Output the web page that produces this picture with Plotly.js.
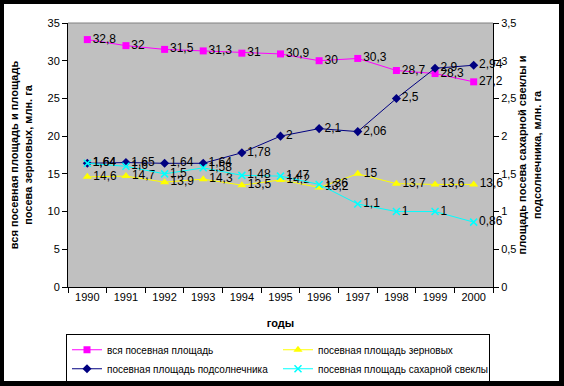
<!DOCTYPE html>
<html>
<head>
<meta charset="utf-8">
<script src="https://cdn.plot.ly/plotly-3.0.1.min.js"></script>
<style>
html,body{margin:0;padding:0;background:#000;}
#wrap{position:relative;width:564px;height:386px;background:#000;overflow:hidden;}
#chart{position:absolute;left:4px;top:4px;width:555px;height:377px;background:#fff;}
</style>
</head>
<body>
<div id="wrap"><div id="chart"></div></div>
<script>
const years = ['1990','1991','1992','1993','1994','1995','1996','1997','1998','1999','2000'];
const totalArea = [32.8, 32, 31.5, 31.3, 31, 30.9, 30, 30.3, 28.7, 28.3, 27.2];
const grainArea = [14.6, 14.7, 13.9, 14.3, 13.5, 14.2, 13.2, 15, 13.7, 13.6, 13.6];
const sunflowerArea = [1.64, 1.65, 1.64, 1.64, 1.78, 2, 2.1, 2.06, 2.5, 2.9, 2.94];
const sugarBeetArea = [1.64, 1.6, 1.5, 1.58, 1.48, 1.47, 1.36, 1.1, 1, 1, 0.86];
const seriesNames = ['вся посевная площадь', 'посевная площадь зерновых', 'посевная площадь подсолнечника', 'посевная площадь сахарной свеклы'];

const fmt = v => String(v).replace('.', ',');
const labelFont = {family: 'Liberation Sans, Arial, sans-serif', size: 12, color: '#000'};

function tr(y, name, color, symbol, size, yaxis) {
  const isX = symbol.indexOf('x') === 0;
  return {
    x: years, y: y, name: name, type: 'scatter', mode: 'lines+markers+text',
    yaxis: yaxis,
    line: {color: color, width: 1},
    marker: {color: color, symbol: symbol, size: size, line: {color: color, width: isX ? 1.5 : 0}},
    text: y.map(fmt), textposition: 'middle right', textfont: labelFont,
    cliponaxis: false
  };
}

const data = [
  tr(totalArea, seriesNames[0], '#ff00ff', 'square', 7, 'y'),
  tr(grainArea, seriesNames[1], '#ffff00', 'triangle-up', 8, 'y'),
  tr(sunflowerArea, seriesNames[2], '#000080', 'diamond', 7, 'y2'),
  tr(sugarBeetArea, seriesNames[3], '#00ffff', 'x-thin-open', 7, 'y2')
];

const axFont = {family: 'Liberation Sans, Arial, sans-serif', size: 11, color: '#000'};
const titleFont = {family: 'Liberation Sans, Arial, sans-serif', size: 11, color: '#000', weight: 'bold'};

const layout = {
  width: 555, height: 377,
  margin: {l: 64, r: 66, t: 19, b: 94},
  paper_bgcolor: '#ffffff',
  plot_bgcolor: '#c0c0c0',
  separators: ', ',
  showlegend: true,
  font: axFont,
  xaxis: {
    type: 'category', range: [-0.5, 10.5],
    tickson: 'boundaries', ticks: 'outside', ticklen: 5, tickcolor: '#000',
    showline: true, linecolor: '#000', linewidth: 1, showgrid: false, zeroline: false,
    tickfont: axFont, automargin: false,
    title: {text: 'годы', font: titleFont, standoff: 17}
  },
  yaxis: {
    range: [0, 35], dtick: 5, ticks: 'outside', ticklen: 5, tickcolor: '#000',
    showline: true, linecolor: '#000', linewidth: 1, showgrid: false, zeroline: false,
    tickfont: axFont, automargin: false,
    title: {text: 'вся посевная площадь и площадь<br>посева зерновых, млн. га', font: titleFont, standoff: 12}
  },
  yaxis2: {
    range: [0, 3.5], dtick: 0.5, overlaying: 'y', side: 'right',
    ticks: 'outside', ticklen: 5, tickcolor: '#000',
    showline: true, linecolor: '#000', linewidth: 1, showgrid: false, zeroline: false,
    tickfont: axFont, automargin: false,
    title: {text: 'площадь посева сахарной свеклы и<br>подсолнечника, млн. га', font: titleFont, standoff: 0}
  },
  legend: {
    orientation: 'h', xref: 'container', yref: 'container',
    x: 0.1117, xanchor: 'left', y: 0.124, yanchor: 'top',
    bordercolor: '#000', borderwidth: 1, bgcolor: '#fff',
    font: {family: 'Liberation Sans, Arial, sans-serif', size: 10, color: '#000'},
    entrywidth: 166, entrywidthmode: 'pixels', traceorder: 'normal'
  },
  shapes: [
    {type: 'line', xref: 'paper', yref: 'paper', x0: 0, x1: 1, y0: 1, y1: 1, line: {color: '#808080', width: 1}}
  ]
};

Plotly.newPlot('chart', data, layout, {staticPlot: true, displayModeBar: false});
</script>
</body>
</html>
